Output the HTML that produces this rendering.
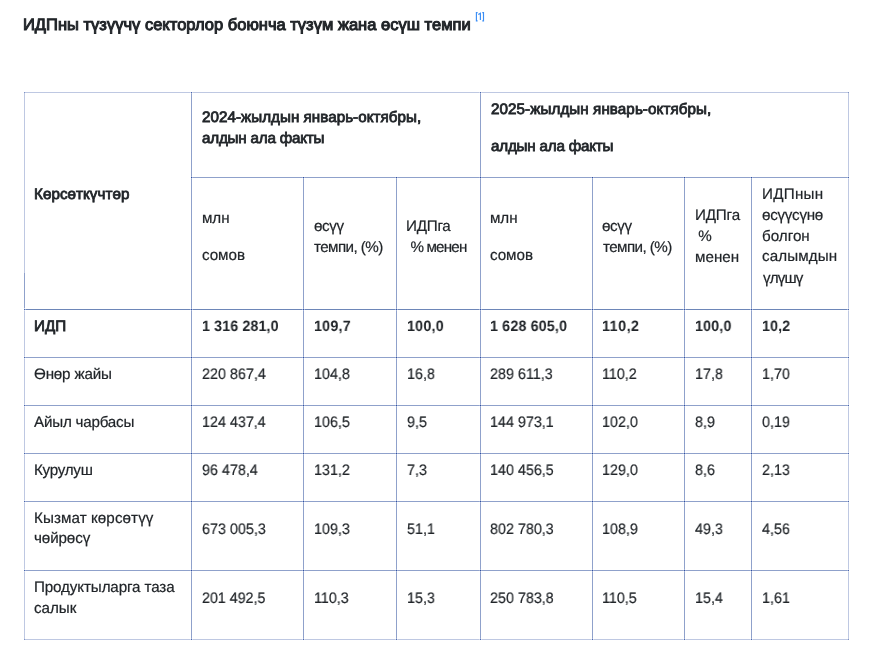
<!DOCTYPE html>
<html lang="ky"><head><meta charset="utf-8"><title>ИДП</title>
<style>
html,body{margin:0;padding:0;background:#fff;}
body{width:873px;height:658px;overflow:hidden;position:relative;font-family:"Liberation Sans",sans-serif;color:#212529;}
.ln{position:absolute;}
.t,.tb{position:absolute;will-change:transform;text-rendering:geometricPrecision;white-space:nowrap;font-size:15.2px;line-height:21px;-webkit-text-stroke:0.2px #212529;}
.tn{transform:scaleX(0.94);transform-origin:0 0;}
.tm{-webkit-text-stroke:0.8px #212529;}
.tb{font-weight:bold;font-size:15.0px;transform:scaleX(0.95);transform-origin:0 0;-webkit-text-stroke:0px #212529;}
.title{position:absolute;will-change:transform;left:22.6px;font-size:16.5px;font-weight:normal;text-rendering:geometricPrecision;-webkit-text-stroke:1.0px #212529;white-space:nowrap;letter-spacing:0.01px;line-height:20px;color:#212529}
</style></head><body>
<div class="title" id="title" style="top:15.18px">ИДПны түзүүчү секторлор боюнча түзүм жана өсүш темпи</div>
<svg style="position:absolute;left:0;top:0" width="873" height="40" viewBox="0 0 873 40"><g fill="none" stroke="#3b8ef5" stroke-width="1.15" stroke-linecap="butt"><path d="M477.6 12.6 H476.4 V20.9 H477.6"/><path d="M478.3 14.6 L480.4 13.3 V19.9"/><path d="M482.3 12.6 H483.5 V20.9 H482.3"/></g></svg>
<div class="ln" style="left:24px;top:92px;width:825px;height:1px;background:#bec8e2"></div>
<div class="ln" style="left:24px;top:639px;width:825px;height:1px;background:#bec8e2"></div>
<div class="ln" style="left:25px;top:309px;width:823px;height:1px;background:#6d86b8"></div>
<div class="ln" style="left:25px;top:357px;width:823px;height:1px;background:#8fa1cb"></div>
<div class="ln" style="left:25px;top:405px;width:823px;height:1px;background:#8fa1cb"></div>
<div class="ln" style="left:25px;top:453px;width:823px;height:1px;background:#8fa1cb"></div>
<div class="ln" style="left:25px;top:501px;width:823px;height:1px;background:#8fa1cb"></div>
<div class="ln" style="left:25px;top:570px;width:823px;height:1px;background:#8fa1cb"></div>
<div class="ln" style="left:192px;top:177px;width:656px;height:1px;background:#8fa1cb"></div>
<div class="ln" style="left:24px;top:92px;width:1px;height:548px;background:#bec8e2"></div>
<div class="ln" style="left:848px;top:92px;width:1px;height:548px;background:#bec8e2"></div>
<div class="ln" style="left:24px;top:273px;width:1px;height:36px;background:#8fa1cb"></div>
<div class="ln" style="left:191px;top:93px;width:1px;height:546px;background:#8fa1cb"></div>
<div class="ln" style="left:480px;top:93px;width:1px;height:546px;background:#8fa1cb"></div>
<div class="ln" style="left:303px;top:178px;width:1px;height:461px;background:#8fa1cb"></div>
<div class="ln" style="left:396px;top:178px;width:1px;height:461px;background:#8fa1cb"></div>
<div class="ln" style="left:592px;top:178px;width:1px;height:461px;background:#8fa1cb"></div>
<div class="ln" style="left:684px;top:178px;width:1px;height:461px;background:#8fa1cb"></div>
<div class="ln" style="left:751px;top:178px;width:1px;height:461px;background:#8fa1cb"></div>
<div class="ln" style="left:24px;top:92px;width:1px;height:1px;background:#7f93c4"></div>
<div class="ln" style="left:190px;top:92px;width:1px;height:1px;background:#d3daec"></div>
<div class="ln" style="left:192px;top:92px;width:1px;height:1px;background:#d3daec"></div>
<div class="ln" style="left:191px;top:93px;width:1px;height:1px;background:#a3b2d7"></div>
<div class="ln" style="left:191px;top:92px;width:1px;height:1px;background:#4866ac"></div>
<div class="ln" style="left:479px;top:92px;width:1px;height:1px;background:#d3daec"></div>
<div class="ln" style="left:481px;top:92px;width:1px;height:1px;background:#d3daec"></div>
<div class="ln" style="left:480px;top:93px;width:1px;height:1px;background:#a3b2d7"></div>
<div class="ln" style="left:480px;top:92px;width:1px;height:1px;background:#4866ac"></div>
<div class="ln" style="left:848px;top:92px;width:1px;height:1px;background:#7f93c4"></div>
<div class="ln" style="left:24px;top:639px;width:1px;height:1px;background:#7f93c4"></div>
<div class="ln" style="left:190px;top:639px;width:1px;height:1px;background:#d3daec"></div>
<div class="ln" style="left:192px;top:639px;width:1px;height:1px;background:#d3daec"></div>
<div class="ln" style="left:191px;top:638px;width:1px;height:1px;background:#a3b2d7"></div>
<div class="ln" style="left:191px;top:639px;width:1px;height:1px;background:#4866ac"></div>
<div class="ln" style="left:479px;top:639px;width:1px;height:1px;background:#d3daec"></div>
<div class="ln" style="left:481px;top:639px;width:1px;height:1px;background:#d3daec"></div>
<div class="ln" style="left:480px;top:638px;width:1px;height:1px;background:#a3b2d7"></div>
<div class="ln" style="left:480px;top:639px;width:1px;height:1px;background:#4866ac"></div>
<div class="ln" style="left:848px;top:639px;width:1px;height:1px;background:#7f93c4"></div>
<div class="ln" style="left:302px;top:639px;width:1px;height:1px;background:#d3daec"></div>
<div class="ln" style="left:304px;top:639px;width:1px;height:1px;background:#d3daec"></div>
<div class="ln" style="left:303px;top:638px;width:1px;height:1px;background:#a3b2d7"></div>
<div class="ln" style="left:303px;top:639px;width:1px;height:1px;background:#4866ac"></div>
<div class="ln" style="left:395px;top:639px;width:1px;height:1px;background:#d3daec"></div>
<div class="ln" style="left:397px;top:639px;width:1px;height:1px;background:#d3daec"></div>
<div class="ln" style="left:396px;top:638px;width:1px;height:1px;background:#a3b2d7"></div>
<div class="ln" style="left:396px;top:639px;width:1px;height:1px;background:#4866ac"></div>
<div class="ln" style="left:591px;top:639px;width:1px;height:1px;background:#d3daec"></div>
<div class="ln" style="left:593px;top:639px;width:1px;height:1px;background:#d3daec"></div>
<div class="ln" style="left:592px;top:638px;width:1px;height:1px;background:#a3b2d7"></div>
<div class="ln" style="left:592px;top:639px;width:1px;height:1px;background:#4866ac"></div>
<div class="ln" style="left:683px;top:639px;width:1px;height:1px;background:#d3daec"></div>
<div class="ln" style="left:685px;top:639px;width:1px;height:1px;background:#d3daec"></div>
<div class="ln" style="left:684px;top:638px;width:1px;height:1px;background:#a3b2d7"></div>
<div class="ln" style="left:684px;top:639px;width:1px;height:1px;background:#4866ac"></div>
<div class="ln" style="left:750px;top:639px;width:1px;height:1px;background:#d3daec"></div>
<div class="ln" style="left:752px;top:639px;width:1px;height:1px;background:#d3daec"></div>
<div class="ln" style="left:751px;top:638px;width:1px;height:1px;background:#a3b2d7"></div>
<div class="ln" style="left:751px;top:639px;width:1px;height:1px;background:#4866ac"></div>
<div class="ln" style="left:25px;top:309px;width:1px;height:1px;background:#a3b2d7"></div>
<div class="ln" style="left:24px;top:308px;width:1px;height:1px;background:#d3daec"></div>
<div class="ln" style="left:24px;top:310px;width:1px;height:1px;background:#d3daec"></div>
<div class="ln" style="left:24px;top:309px;width:1px;height:1px;background:#4866ac"></div>
<div class="ln" style="left:190px;top:309px;width:1px;height:1px;background:#a3b2d7"></div>
<div class="ln" style="left:192px;top:309px;width:1px;height:1px;background:#a3b2d7"></div>
<div class="ln" style="left:191px;top:308px;width:1px;height:1px;background:#a3b2d7"></div>
<div class="ln" style="left:191px;top:310px;width:1px;height:1px;background:#a3b2d7"></div>
<div class="ln" style="left:191px;top:309px;width:1px;height:1px;background:#2d4e9f"></div>
<div class="ln" style="left:479px;top:309px;width:1px;height:1px;background:#a3b2d7"></div>
<div class="ln" style="left:481px;top:309px;width:1px;height:1px;background:#a3b2d7"></div>
<div class="ln" style="left:480px;top:308px;width:1px;height:1px;background:#a3b2d7"></div>
<div class="ln" style="left:480px;top:310px;width:1px;height:1px;background:#a3b2d7"></div>
<div class="ln" style="left:480px;top:309px;width:1px;height:1px;background:#2d4e9f"></div>
<div class="ln" style="left:847px;top:309px;width:1px;height:1px;background:#a3b2d7"></div>
<div class="ln" style="left:848px;top:308px;width:1px;height:1px;background:#d3daec"></div>
<div class="ln" style="left:848px;top:310px;width:1px;height:1px;background:#d3daec"></div>
<div class="ln" style="left:848px;top:309px;width:1px;height:1px;background:#4866ac"></div>
<div class="ln" style="left:302px;top:309px;width:1px;height:1px;background:#a3b2d7"></div>
<div class="ln" style="left:304px;top:309px;width:1px;height:1px;background:#a3b2d7"></div>
<div class="ln" style="left:303px;top:308px;width:1px;height:1px;background:#a3b2d7"></div>
<div class="ln" style="left:303px;top:310px;width:1px;height:1px;background:#a3b2d7"></div>
<div class="ln" style="left:303px;top:309px;width:1px;height:1px;background:#2d4e9f"></div>
<div class="ln" style="left:395px;top:309px;width:1px;height:1px;background:#a3b2d7"></div>
<div class="ln" style="left:397px;top:309px;width:1px;height:1px;background:#a3b2d7"></div>
<div class="ln" style="left:396px;top:308px;width:1px;height:1px;background:#a3b2d7"></div>
<div class="ln" style="left:396px;top:310px;width:1px;height:1px;background:#a3b2d7"></div>
<div class="ln" style="left:396px;top:309px;width:1px;height:1px;background:#2d4e9f"></div>
<div class="ln" style="left:591px;top:309px;width:1px;height:1px;background:#a3b2d7"></div>
<div class="ln" style="left:593px;top:309px;width:1px;height:1px;background:#a3b2d7"></div>
<div class="ln" style="left:592px;top:308px;width:1px;height:1px;background:#a3b2d7"></div>
<div class="ln" style="left:592px;top:310px;width:1px;height:1px;background:#a3b2d7"></div>
<div class="ln" style="left:592px;top:309px;width:1px;height:1px;background:#2d4e9f"></div>
<div class="ln" style="left:683px;top:309px;width:1px;height:1px;background:#a3b2d7"></div>
<div class="ln" style="left:685px;top:309px;width:1px;height:1px;background:#a3b2d7"></div>
<div class="ln" style="left:684px;top:308px;width:1px;height:1px;background:#a3b2d7"></div>
<div class="ln" style="left:684px;top:310px;width:1px;height:1px;background:#a3b2d7"></div>
<div class="ln" style="left:684px;top:309px;width:1px;height:1px;background:#2d4e9f"></div>
<div class="ln" style="left:750px;top:309px;width:1px;height:1px;background:#a3b2d7"></div>
<div class="ln" style="left:752px;top:309px;width:1px;height:1px;background:#a3b2d7"></div>
<div class="ln" style="left:751px;top:308px;width:1px;height:1px;background:#a3b2d7"></div>
<div class="ln" style="left:751px;top:310px;width:1px;height:1px;background:#a3b2d7"></div>
<div class="ln" style="left:751px;top:309px;width:1px;height:1px;background:#2d4e9f"></div>
<div class="ln" style="left:25px;top:357px;width:1px;height:1px;background:#a3b2d7"></div>
<div class="ln" style="left:24px;top:356px;width:1px;height:1px;background:#d3daec"></div>
<div class="ln" style="left:24px;top:358px;width:1px;height:1px;background:#d3daec"></div>
<div class="ln" style="left:24px;top:357px;width:1px;height:1px;background:#4866ac"></div>
<div class="ln" style="left:190px;top:357px;width:1px;height:1px;background:#a3b2d7"></div>
<div class="ln" style="left:192px;top:357px;width:1px;height:1px;background:#a3b2d7"></div>
<div class="ln" style="left:191px;top:356px;width:1px;height:1px;background:#a3b2d7"></div>
<div class="ln" style="left:191px;top:358px;width:1px;height:1px;background:#a3b2d7"></div>
<div class="ln" style="left:191px;top:357px;width:1px;height:1px;background:#2d4e9f"></div>
<div class="ln" style="left:479px;top:357px;width:1px;height:1px;background:#a3b2d7"></div>
<div class="ln" style="left:481px;top:357px;width:1px;height:1px;background:#a3b2d7"></div>
<div class="ln" style="left:480px;top:356px;width:1px;height:1px;background:#a3b2d7"></div>
<div class="ln" style="left:480px;top:358px;width:1px;height:1px;background:#a3b2d7"></div>
<div class="ln" style="left:480px;top:357px;width:1px;height:1px;background:#2d4e9f"></div>
<div class="ln" style="left:847px;top:357px;width:1px;height:1px;background:#a3b2d7"></div>
<div class="ln" style="left:848px;top:356px;width:1px;height:1px;background:#d3daec"></div>
<div class="ln" style="left:848px;top:358px;width:1px;height:1px;background:#d3daec"></div>
<div class="ln" style="left:848px;top:357px;width:1px;height:1px;background:#4866ac"></div>
<div class="ln" style="left:302px;top:357px;width:1px;height:1px;background:#a3b2d7"></div>
<div class="ln" style="left:304px;top:357px;width:1px;height:1px;background:#a3b2d7"></div>
<div class="ln" style="left:303px;top:356px;width:1px;height:1px;background:#a3b2d7"></div>
<div class="ln" style="left:303px;top:358px;width:1px;height:1px;background:#a3b2d7"></div>
<div class="ln" style="left:303px;top:357px;width:1px;height:1px;background:#2d4e9f"></div>
<div class="ln" style="left:395px;top:357px;width:1px;height:1px;background:#a3b2d7"></div>
<div class="ln" style="left:397px;top:357px;width:1px;height:1px;background:#a3b2d7"></div>
<div class="ln" style="left:396px;top:356px;width:1px;height:1px;background:#a3b2d7"></div>
<div class="ln" style="left:396px;top:358px;width:1px;height:1px;background:#a3b2d7"></div>
<div class="ln" style="left:396px;top:357px;width:1px;height:1px;background:#2d4e9f"></div>
<div class="ln" style="left:591px;top:357px;width:1px;height:1px;background:#a3b2d7"></div>
<div class="ln" style="left:593px;top:357px;width:1px;height:1px;background:#a3b2d7"></div>
<div class="ln" style="left:592px;top:356px;width:1px;height:1px;background:#a3b2d7"></div>
<div class="ln" style="left:592px;top:358px;width:1px;height:1px;background:#a3b2d7"></div>
<div class="ln" style="left:592px;top:357px;width:1px;height:1px;background:#2d4e9f"></div>
<div class="ln" style="left:683px;top:357px;width:1px;height:1px;background:#a3b2d7"></div>
<div class="ln" style="left:685px;top:357px;width:1px;height:1px;background:#a3b2d7"></div>
<div class="ln" style="left:684px;top:356px;width:1px;height:1px;background:#a3b2d7"></div>
<div class="ln" style="left:684px;top:358px;width:1px;height:1px;background:#a3b2d7"></div>
<div class="ln" style="left:684px;top:357px;width:1px;height:1px;background:#2d4e9f"></div>
<div class="ln" style="left:750px;top:357px;width:1px;height:1px;background:#a3b2d7"></div>
<div class="ln" style="left:752px;top:357px;width:1px;height:1px;background:#a3b2d7"></div>
<div class="ln" style="left:751px;top:356px;width:1px;height:1px;background:#a3b2d7"></div>
<div class="ln" style="left:751px;top:358px;width:1px;height:1px;background:#a3b2d7"></div>
<div class="ln" style="left:751px;top:357px;width:1px;height:1px;background:#2d4e9f"></div>
<div class="ln" style="left:25px;top:405px;width:1px;height:1px;background:#a3b2d7"></div>
<div class="ln" style="left:24px;top:404px;width:1px;height:1px;background:#d3daec"></div>
<div class="ln" style="left:24px;top:406px;width:1px;height:1px;background:#d3daec"></div>
<div class="ln" style="left:24px;top:405px;width:1px;height:1px;background:#4866ac"></div>
<div class="ln" style="left:190px;top:405px;width:1px;height:1px;background:#a3b2d7"></div>
<div class="ln" style="left:192px;top:405px;width:1px;height:1px;background:#a3b2d7"></div>
<div class="ln" style="left:191px;top:404px;width:1px;height:1px;background:#a3b2d7"></div>
<div class="ln" style="left:191px;top:406px;width:1px;height:1px;background:#a3b2d7"></div>
<div class="ln" style="left:191px;top:405px;width:1px;height:1px;background:#2d4e9f"></div>
<div class="ln" style="left:479px;top:405px;width:1px;height:1px;background:#a3b2d7"></div>
<div class="ln" style="left:481px;top:405px;width:1px;height:1px;background:#a3b2d7"></div>
<div class="ln" style="left:480px;top:404px;width:1px;height:1px;background:#a3b2d7"></div>
<div class="ln" style="left:480px;top:406px;width:1px;height:1px;background:#a3b2d7"></div>
<div class="ln" style="left:480px;top:405px;width:1px;height:1px;background:#2d4e9f"></div>
<div class="ln" style="left:847px;top:405px;width:1px;height:1px;background:#a3b2d7"></div>
<div class="ln" style="left:848px;top:404px;width:1px;height:1px;background:#d3daec"></div>
<div class="ln" style="left:848px;top:406px;width:1px;height:1px;background:#d3daec"></div>
<div class="ln" style="left:848px;top:405px;width:1px;height:1px;background:#4866ac"></div>
<div class="ln" style="left:302px;top:405px;width:1px;height:1px;background:#a3b2d7"></div>
<div class="ln" style="left:304px;top:405px;width:1px;height:1px;background:#a3b2d7"></div>
<div class="ln" style="left:303px;top:404px;width:1px;height:1px;background:#a3b2d7"></div>
<div class="ln" style="left:303px;top:406px;width:1px;height:1px;background:#a3b2d7"></div>
<div class="ln" style="left:303px;top:405px;width:1px;height:1px;background:#2d4e9f"></div>
<div class="ln" style="left:395px;top:405px;width:1px;height:1px;background:#a3b2d7"></div>
<div class="ln" style="left:397px;top:405px;width:1px;height:1px;background:#a3b2d7"></div>
<div class="ln" style="left:396px;top:404px;width:1px;height:1px;background:#a3b2d7"></div>
<div class="ln" style="left:396px;top:406px;width:1px;height:1px;background:#a3b2d7"></div>
<div class="ln" style="left:396px;top:405px;width:1px;height:1px;background:#2d4e9f"></div>
<div class="ln" style="left:591px;top:405px;width:1px;height:1px;background:#a3b2d7"></div>
<div class="ln" style="left:593px;top:405px;width:1px;height:1px;background:#a3b2d7"></div>
<div class="ln" style="left:592px;top:404px;width:1px;height:1px;background:#a3b2d7"></div>
<div class="ln" style="left:592px;top:406px;width:1px;height:1px;background:#a3b2d7"></div>
<div class="ln" style="left:592px;top:405px;width:1px;height:1px;background:#2d4e9f"></div>
<div class="ln" style="left:683px;top:405px;width:1px;height:1px;background:#a3b2d7"></div>
<div class="ln" style="left:685px;top:405px;width:1px;height:1px;background:#a3b2d7"></div>
<div class="ln" style="left:684px;top:404px;width:1px;height:1px;background:#a3b2d7"></div>
<div class="ln" style="left:684px;top:406px;width:1px;height:1px;background:#a3b2d7"></div>
<div class="ln" style="left:684px;top:405px;width:1px;height:1px;background:#2d4e9f"></div>
<div class="ln" style="left:750px;top:405px;width:1px;height:1px;background:#a3b2d7"></div>
<div class="ln" style="left:752px;top:405px;width:1px;height:1px;background:#a3b2d7"></div>
<div class="ln" style="left:751px;top:404px;width:1px;height:1px;background:#a3b2d7"></div>
<div class="ln" style="left:751px;top:406px;width:1px;height:1px;background:#a3b2d7"></div>
<div class="ln" style="left:751px;top:405px;width:1px;height:1px;background:#2d4e9f"></div>
<div class="ln" style="left:25px;top:453px;width:1px;height:1px;background:#a3b2d7"></div>
<div class="ln" style="left:24px;top:452px;width:1px;height:1px;background:#d3daec"></div>
<div class="ln" style="left:24px;top:454px;width:1px;height:1px;background:#d3daec"></div>
<div class="ln" style="left:24px;top:453px;width:1px;height:1px;background:#4866ac"></div>
<div class="ln" style="left:190px;top:453px;width:1px;height:1px;background:#a3b2d7"></div>
<div class="ln" style="left:192px;top:453px;width:1px;height:1px;background:#a3b2d7"></div>
<div class="ln" style="left:191px;top:452px;width:1px;height:1px;background:#a3b2d7"></div>
<div class="ln" style="left:191px;top:454px;width:1px;height:1px;background:#a3b2d7"></div>
<div class="ln" style="left:191px;top:453px;width:1px;height:1px;background:#2d4e9f"></div>
<div class="ln" style="left:479px;top:453px;width:1px;height:1px;background:#a3b2d7"></div>
<div class="ln" style="left:481px;top:453px;width:1px;height:1px;background:#a3b2d7"></div>
<div class="ln" style="left:480px;top:452px;width:1px;height:1px;background:#a3b2d7"></div>
<div class="ln" style="left:480px;top:454px;width:1px;height:1px;background:#a3b2d7"></div>
<div class="ln" style="left:480px;top:453px;width:1px;height:1px;background:#2d4e9f"></div>
<div class="ln" style="left:847px;top:453px;width:1px;height:1px;background:#a3b2d7"></div>
<div class="ln" style="left:848px;top:452px;width:1px;height:1px;background:#d3daec"></div>
<div class="ln" style="left:848px;top:454px;width:1px;height:1px;background:#d3daec"></div>
<div class="ln" style="left:848px;top:453px;width:1px;height:1px;background:#4866ac"></div>
<div class="ln" style="left:302px;top:453px;width:1px;height:1px;background:#a3b2d7"></div>
<div class="ln" style="left:304px;top:453px;width:1px;height:1px;background:#a3b2d7"></div>
<div class="ln" style="left:303px;top:452px;width:1px;height:1px;background:#a3b2d7"></div>
<div class="ln" style="left:303px;top:454px;width:1px;height:1px;background:#a3b2d7"></div>
<div class="ln" style="left:303px;top:453px;width:1px;height:1px;background:#2d4e9f"></div>
<div class="ln" style="left:395px;top:453px;width:1px;height:1px;background:#a3b2d7"></div>
<div class="ln" style="left:397px;top:453px;width:1px;height:1px;background:#a3b2d7"></div>
<div class="ln" style="left:396px;top:452px;width:1px;height:1px;background:#a3b2d7"></div>
<div class="ln" style="left:396px;top:454px;width:1px;height:1px;background:#a3b2d7"></div>
<div class="ln" style="left:396px;top:453px;width:1px;height:1px;background:#2d4e9f"></div>
<div class="ln" style="left:591px;top:453px;width:1px;height:1px;background:#a3b2d7"></div>
<div class="ln" style="left:593px;top:453px;width:1px;height:1px;background:#a3b2d7"></div>
<div class="ln" style="left:592px;top:452px;width:1px;height:1px;background:#a3b2d7"></div>
<div class="ln" style="left:592px;top:454px;width:1px;height:1px;background:#a3b2d7"></div>
<div class="ln" style="left:592px;top:453px;width:1px;height:1px;background:#2d4e9f"></div>
<div class="ln" style="left:683px;top:453px;width:1px;height:1px;background:#a3b2d7"></div>
<div class="ln" style="left:685px;top:453px;width:1px;height:1px;background:#a3b2d7"></div>
<div class="ln" style="left:684px;top:452px;width:1px;height:1px;background:#a3b2d7"></div>
<div class="ln" style="left:684px;top:454px;width:1px;height:1px;background:#a3b2d7"></div>
<div class="ln" style="left:684px;top:453px;width:1px;height:1px;background:#2d4e9f"></div>
<div class="ln" style="left:750px;top:453px;width:1px;height:1px;background:#a3b2d7"></div>
<div class="ln" style="left:752px;top:453px;width:1px;height:1px;background:#a3b2d7"></div>
<div class="ln" style="left:751px;top:452px;width:1px;height:1px;background:#a3b2d7"></div>
<div class="ln" style="left:751px;top:454px;width:1px;height:1px;background:#a3b2d7"></div>
<div class="ln" style="left:751px;top:453px;width:1px;height:1px;background:#2d4e9f"></div>
<div class="ln" style="left:25px;top:501px;width:1px;height:1px;background:#a3b2d7"></div>
<div class="ln" style="left:24px;top:500px;width:1px;height:1px;background:#d3daec"></div>
<div class="ln" style="left:24px;top:502px;width:1px;height:1px;background:#d3daec"></div>
<div class="ln" style="left:24px;top:501px;width:1px;height:1px;background:#4866ac"></div>
<div class="ln" style="left:190px;top:501px;width:1px;height:1px;background:#a3b2d7"></div>
<div class="ln" style="left:192px;top:501px;width:1px;height:1px;background:#a3b2d7"></div>
<div class="ln" style="left:191px;top:500px;width:1px;height:1px;background:#a3b2d7"></div>
<div class="ln" style="left:191px;top:502px;width:1px;height:1px;background:#a3b2d7"></div>
<div class="ln" style="left:191px;top:501px;width:1px;height:1px;background:#2d4e9f"></div>
<div class="ln" style="left:479px;top:501px;width:1px;height:1px;background:#a3b2d7"></div>
<div class="ln" style="left:481px;top:501px;width:1px;height:1px;background:#a3b2d7"></div>
<div class="ln" style="left:480px;top:500px;width:1px;height:1px;background:#a3b2d7"></div>
<div class="ln" style="left:480px;top:502px;width:1px;height:1px;background:#a3b2d7"></div>
<div class="ln" style="left:480px;top:501px;width:1px;height:1px;background:#2d4e9f"></div>
<div class="ln" style="left:847px;top:501px;width:1px;height:1px;background:#a3b2d7"></div>
<div class="ln" style="left:848px;top:500px;width:1px;height:1px;background:#d3daec"></div>
<div class="ln" style="left:848px;top:502px;width:1px;height:1px;background:#d3daec"></div>
<div class="ln" style="left:848px;top:501px;width:1px;height:1px;background:#4866ac"></div>
<div class="ln" style="left:302px;top:501px;width:1px;height:1px;background:#a3b2d7"></div>
<div class="ln" style="left:304px;top:501px;width:1px;height:1px;background:#a3b2d7"></div>
<div class="ln" style="left:303px;top:500px;width:1px;height:1px;background:#a3b2d7"></div>
<div class="ln" style="left:303px;top:502px;width:1px;height:1px;background:#a3b2d7"></div>
<div class="ln" style="left:303px;top:501px;width:1px;height:1px;background:#2d4e9f"></div>
<div class="ln" style="left:395px;top:501px;width:1px;height:1px;background:#a3b2d7"></div>
<div class="ln" style="left:397px;top:501px;width:1px;height:1px;background:#a3b2d7"></div>
<div class="ln" style="left:396px;top:500px;width:1px;height:1px;background:#a3b2d7"></div>
<div class="ln" style="left:396px;top:502px;width:1px;height:1px;background:#a3b2d7"></div>
<div class="ln" style="left:396px;top:501px;width:1px;height:1px;background:#2d4e9f"></div>
<div class="ln" style="left:591px;top:501px;width:1px;height:1px;background:#a3b2d7"></div>
<div class="ln" style="left:593px;top:501px;width:1px;height:1px;background:#a3b2d7"></div>
<div class="ln" style="left:592px;top:500px;width:1px;height:1px;background:#a3b2d7"></div>
<div class="ln" style="left:592px;top:502px;width:1px;height:1px;background:#a3b2d7"></div>
<div class="ln" style="left:592px;top:501px;width:1px;height:1px;background:#2d4e9f"></div>
<div class="ln" style="left:683px;top:501px;width:1px;height:1px;background:#a3b2d7"></div>
<div class="ln" style="left:685px;top:501px;width:1px;height:1px;background:#a3b2d7"></div>
<div class="ln" style="left:684px;top:500px;width:1px;height:1px;background:#a3b2d7"></div>
<div class="ln" style="left:684px;top:502px;width:1px;height:1px;background:#a3b2d7"></div>
<div class="ln" style="left:684px;top:501px;width:1px;height:1px;background:#2d4e9f"></div>
<div class="ln" style="left:750px;top:501px;width:1px;height:1px;background:#a3b2d7"></div>
<div class="ln" style="left:752px;top:501px;width:1px;height:1px;background:#a3b2d7"></div>
<div class="ln" style="left:751px;top:500px;width:1px;height:1px;background:#a3b2d7"></div>
<div class="ln" style="left:751px;top:502px;width:1px;height:1px;background:#a3b2d7"></div>
<div class="ln" style="left:751px;top:501px;width:1px;height:1px;background:#2d4e9f"></div>
<div class="ln" style="left:25px;top:570px;width:1px;height:1px;background:#a3b2d7"></div>
<div class="ln" style="left:24px;top:569px;width:1px;height:1px;background:#d3daec"></div>
<div class="ln" style="left:24px;top:571px;width:1px;height:1px;background:#d3daec"></div>
<div class="ln" style="left:24px;top:570px;width:1px;height:1px;background:#4866ac"></div>
<div class="ln" style="left:190px;top:570px;width:1px;height:1px;background:#a3b2d7"></div>
<div class="ln" style="left:192px;top:570px;width:1px;height:1px;background:#a3b2d7"></div>
<div class="ln" style="left:191px;top:569px;width:1px;height:1px;background:#a3b2d7"></div>
<div class="ln" style="left:191px;top:571px;width:1px;height:1px;background:#a3b2d7"></div>
<div class="ln" style="left:191px;top:570px;width:1px;height:1px;background:#2d4e9f"></div>
<div class="ln" style="left:479px;top:570px;width:1px;height:1px;background:#a3b2d7"></div>
<div class="ln" style="left:481px;top:570px;width:1px;height:1px;background:#a3b2d7"></div>
<div class="ln" style="left:480px;top:569px;width:1px;height:1px;background:#a3b2d7"></div>
<div class="ln" style="left:480px;top:571px;width:1px;height:1px;background:#a3b2d7"></div>
<div class="ln" style="left:480px;top:570px;width:1px;height:1px;background:#2d4e9f"></div>
<div class="ln" style="left:847px;top:570px;width:1px;height:1px;background:#a3b2d7"></div>
<div class="ln" style="left:848px;top:569px;width:1px;height:1px;background:#d3daec"></div>
<div class="ln" style="left:848px;top:571px;width:1px;height:1px;background:#d3daec"></div>
<div class="ln" style="left:848px;top:570px;width:1px;height:1px;background:#4866ac"></div>
<div class="ln" style="left:302px;top:570px;width:1px;height:1px;background:#a3b2d7"></div>
<div class="ln" style="left:304px;top:570px;width:1px;height:1px;background:#a3b2d7"></div>
<div class="ln" style="left:303px;top:569px;width:1px;height:1px;background:#a3b2d7"></div>
<div class="ln" style="left:303px;top:571px;width:1px;height:1px;background:#a3b2d7"></div>
<div class="ln" style="left:303px;top:570px;width:1px;height:1px;background:#2d4e9f"></div>
<div class="ln" style="left:395px;top:570px;width:1px;height:1px;background:#a3b2d7"></div>
<div class="ln" style="left:397px;top:570px;width:1px;height:1px;background:#a3b2d7"></div>
<div class="ln" style="left:396px;top:569px;width:1px;height:1px;background:#a3b2d7"></div>
<div class="ln" style="left:396px;top:571px;width:1px;height:1px;background:#a3b2d7"></div>
<div class="ln" style="left:396px;top:570px;width:1px;height:1px;background:#2d4e9f"></div>
<div class="ln" style="left:591px;top:570px;width:1px;height:1px;background:#a3b2d7"></div>
<div class="ln" style="left:593px;top:570px;width:1px;height:1px;background:#a3b2d7"></div>
<div class="ln" style="left:592px;top:569px;width:1px;height:1px;background:#a3b2d7"></div>
<div class="ln" style="left:592px;top:571px;width:1px;height:1px;background:#a3b2d7"></div>
<div class="ln" style="left:592px;top:570px;width:1px;height:1px;background:#2d4e9f"></div>
<div class="ln" style="left:683px;top:570px;width:1px;height:1px;background:#a3b2d7"></div>
<div class="ln" style="left:685px;top:570px;width:1px;height:1px;background:#a3b2d7"></div>
<div class="ln" style="left:684px;top:569px;width:1px;height:1px;background:#a3b2d7"></div>
<div class="ln" style="left:684px;top:571px;width:1px;height:1px;background:#a3b2d7"></div>
<div class="ln" style="left:684px;top:570px;width:1px;height:1px;background:#2d4e9f"></div>
<div class="ln" style="left:750px;top:570px;width:1px;height:1px;background:#a3b2d7"></div>
<div class="ln" style="left:752px;top:570px;width:1px;height:1px;background:#a3b2d7"></div>
<div class="ln" style="left:751px;top:569px;width:1px;height:1px;background:#a3b2d7"></div>
<div class="ln" style="left:751px;top:571px;width:1px;height:1px;background:#a3b2d7"></div>
<div class="ln" style="left:751px;top:570px;width:1px;height:1px;background:#2d4e9f"></div>
<div class="ln" style="left:192px;top:177px;width:1px;height:1px;background:#a3b2d7"></div>
<div class="ln" style="left:191px;top:176px;width:1px;height:1px;background:#a3b2d7"></div>
<div class="ln" style="left:191px;top:178px;width:1px;height:1px;background:#a3b2d7"></div>
<div class="ln" style="left:191px;top:177px;width:1px;height:1px;background:#2d4e9f"></div>
<div class="ln" style="left:302px;top:177px;width:1px;height:1px;background:#a3b2d7"></div>
<div class="ln" style="left:304px;top:177px;width:1px;height:1px;background:#a3b2d7"></div>
<div class="ln" style="left:303px;top:178px;width:1px;height:1px;background:#a3b2d7"></div>
<div class="ln" style="left:303px;top:177px;width:1px;height:1px;background:#2d4e9f"></div>
<div class="ln" style="left:395px;top:177px;width:1px;height:1px;background:#a3b2d7"></div>
<div class="ln" style="left:397px;top:177px;width:1px;height:1px;background:#a3b2d7"></div>
<div class="ln" style="left:396px;top:178px;width:1px;height:1px;background:#a3b2d7"></div>
<div class="ln" style="left:396px;top:177px;width:1px;height:1px;background:#2d4e9f"></div>
<div class="ln" style="left:479px;top:177px;width:1px;height:1px;background:#a3b2d7"></div>
<div class="ln" style="left:481px;top:177px;width:1px;height:1px;background:#a3b2d7"></div>
<div class="ln" style="left:480px;top:176px;width:1px;height:1px;background:#a3b2d7"></div>
<div class="ln" style="left:480px;top:178px;width:1px;height:1px;background:#a3b2d7"></div>
<div class="ln" style="left:480px;top:177px;width:1px;height:1px;background:#2d4e9f"></div>
<div class="ln" style="left:591px;top:177px;width:1px;height:1px;background:#a3b2d7"></div>
<div class="ln" style="left:593px;top:177px;width:1px;height:1px;background:#a3b2d7"></div>
<div class="ln" style="left:592px;top:178px;width:1px;height:1px;background:#a3b2d7"></div>
<div class="ln" style="left:592px;top:177px;width:1px;height:1px;background:#2d4e9f"></div>
<div class="ln" style="left:683px;top:177px;width:1px;height:1px;background:#a3b2d7"></div>
<div class="ln" style="left:685px;top:177px;width:1px;height:1px;background:#a3b2d7"></div>
<div class="ln" style="left:684px;top:178px;width:1px;height:1px;background:#a3b2d7"></div>
<div class="ln" style="left:684px;top:177px;width:1px;height:1px;background:#2d4e9f"></div>
<div class="ln" style="left:750px;top:177px;width:1px;height:1px;background:#a3b2d7"></div>
<div class="ln" style="left:752px;top:177px;width:1px;height:1px;background:#a3b2d7"></div>
<div class="ln" style="left:751px;top:178px;width:1px;height:1px;background:#a3b2d7"></div>
<div class="ln" style="left:751px;top:177px;width:1px;height:1px;background:#2d4e9f"></div>
<div class="ln" style="left:847px;top:177px;width:1px;height:1px;background:#a3b2d7"></div>
<div class="ln" style="left:848px;top:176px;width:1px;height:1px;background:#d3daec"></div>
<div class="ln" style="left:848px;top:178px;width:1px;height:1px;background:#d3daec"></div>
<div class="ln" style="left:848px;top:177px;width:1px;height:1px;background:#4866ac"></div>
<div class="t tm" id="i0" style="left:34.37px;top:183.83px;letter-spacing:0.058px">Көрсөткүчтөр</div>
<div class="t tm" id="i1" style="left:202.43px;top:106.83px;letter-spacing:0.033px">2024-жылдын январь-октябры,</div>
<div class="t tm" id="i2" style="left:201.94px;top:128.17px;letter-spacing:-0.200px">алдын ала факты</div>
<div class="t tm" id="i3" style="left:491.43px;top:99.17px;letter-spacing:0.077px">2025-жылдын январь-октябры,</div>
<div class="t tm" id="i4" style="left:490.50px;top:136.17px;letter-spacing:-0.200px">алдын ала факты</div>
<div class="t" id="i5" style="left:201.80px;top:207.83px;letter-spacing:-0.070px">млн</div>
<div class="t" id="i6" style="left:201.59px;top:245.31px;letter-spacing:-0.049px">сомов</div>
<div class="t" id="i7" style="left:489.80px;top:207.83px;letter-spacing:-0.070px">млн</div>
<div class="t" id="i8" style="left:489.59px;top:245.31px;letter-spacing:-0.049px">сомов</div>
<div class="t" id="i9" style="left:313.51px;top:215.67px;letter-spacing:-0.368px">өсүү</div>
<div class="t" id="i10" style="left:314.21px;top:237.33px;letter-spacing:-0.576px">темпи, (%)</div>
<div class="t" id="i11" style="left:602.08px;top:215.67px;letter-spacing:-0.369px">өсүү</div>
<div class="t" id="i12" style="left:603.48px;top:237.33px;letter-spacing:-0.576px">темпи, (%)</div>
<div class="t" id="i13" style="left:406.22px;top:216.33px;letter-spacing:-0.245px">ИДПга</div>
<div class="t" id="i14" style="left:407.27px;top:236.51px;letter-spacing:-0.820px">&nbsp;% менен</div>
<div class="t" id="i15" style="left:694.93px;top:204.83px;letter-spacing:-0.172px">ИДПга</div>
<div class="t" id="i16" style="left:694.44px;top:225.83px">&nbsp;%</div>
<div class="t" id="i17" style="left:694.93px;top:247.17px">менен</div>
<div class="t" id="i18" style="left:761.73px;top:183.65px;letter-spacing:0.280px">ИДПнын</div>
<div class="t" id="i19" style="left:761.73px;top:204.83px;letter-spacing:-0.280px">өсүүсүнө</div>
<div class="t" id="i20" style="left:761.80px;top:226.17px">болгон</div>
<div class="t" id="i21" style="left:761.73px;top:246.31px;letter-spacing:0.100px">салымдын</div>
<div class="t" id="i22" style="left:763.43px;top:267.51px;letter-spacing:-0.876px">үлүшү</div>
<div class="t tm" id="i23" style="left:34.44px;top:315.63px">ИДП</div>
<div class="tb" id="i24" style="left:201.94px;top:315.74px;letter-spacing:0.126px">1 316 281,0</div>
<div class="tb" id="i25" style="left:314.00px;top:315.74px;letter-spacing:0.236px">109,7</div>
<div class="tb" id="i26" style="left:406.50px;top:315.74px;letter-spacing:0.236px">100,0</div>
<div class="tb" id="i27" style="left:490.08px;top:315.74px;letter-spacing:0.182px">1 628 605,0</div>
<div class="tb" id="i28" style="left:601.94px;top:315.74px;letter-spacing:0.560px">110,2</div>
<div class="tb" id="i29" style="left:695.00px;top:315.74px;letter-spacing:0.175px">100,0</div>
<div class="tb" id="i30" style="left:762.21px;top:315.74px;letter-spacing:0.139px">10,2</div>
<div class="t" id="i31" style="left:34.25px;top:364.05px;letter-spacing:-0.176px">Өнөр жайы</div>
<div class="t tn" id="i32" style="left:202.24px;top:364.05px;letter-spacing:0.053px">220 867,4</div>
<div class="t tn" id="i33" style="left:314.00px;top:364.05px;letter-spacing:0.029px">104,8</div>
<div class="t tn" id="i34" style="left:406.50px;top:364.05px;letter-spacing:0.029px">16,8</div>
<div class="t tn" id="i35" style="left:490.08px;top:364.05px;letter-spacing:0.029px">289 611,3</div>
<div class="t tn" id="i36" style="left:601.94px;top:364.05px;letter-spacing:0.029px">110,2</div>
<div class="t tn" id="i37" style="left:695.00px;top:364.05px;letter-spacing:0.029px">17,8</div>
<div class="t tn" id="i38" style="left:762.21px;top:364.05px;letter-spacing:0.029px">1,70</div>
<div class="t" id="i39" style="left:33.86px;top:411.61px;letter-spacing:-0.211px">Айыл чарбасы</div>
<div class="t tn" id="i40" style="left:201.89px;top:411.61px;letter-spacing:0.029px">124 437,4</div>
<div class="t tn" id="i41" style="left:314.00px;top:411.61px;letter-spacing:0.029px">106,5</div>
<div class="t tn" id="i42" style="left:406.50px;top:411.61px;letter-spacing:0.029px">9,5</div>
<div class="t tn" id="i43" style="left:490.08px;top:411.61px;letter-spacing:0.029px">144 973,1</div>
<div class="t tn" id="i44" style="left:601.94px;top:411.61px;letter-spacing:0.029px">102,0</div>
<div class="t tn" id="i45" style="left:695.00px;top:411.61px;letter-spacing:0.029px">8,9</div>
<div class="t tn" id="i46" style="left:762.21px;top:411.61px;letter-spacing:0.029px">0,19</div>
<div class="t" id="i47" style="left:34.30px;top:459.77px;letter-spacing:-0.268px">Курулуш</div>
<div class="t tn" id="i48" style="left:201.89px;top:459.77px;letter-spacing:0.029px">96 478,4</div>
<div class="t tn" id="i49" style="left:314.00px;top:459.77px;letter-spacing:0.029px">131,2</div>
<div class="t tn" id="i50" style="left:406.50px;top:459.77px;letter-spacing:0.029px">7,3</div>
<div class="t tn" id="i51" style="left:490.08px;top:459.77px;letter-spacing:0.029px">140 456,5</div>
<div class="t tn" id="i52" style="left:601.94px;top:459.77px;letter-spacing:0.029px">129,0</div>
<div class="t tn" id="i53" style="left:695.00px;top:459.77px;letter-spacing:0.029px">8,6</div>
<div class="t tn" id="i54" style="left:762.21px;top:459.77px;letter-spacing:0.029px">2,13</div>
<div class="t" id="i55" style="left:34.44px;top:507.83px;letter-spacing:0.090px">Кызмат көрсөтүү</div>
<div class="t" id="i56" style="left:34.44px;top:528.33px;letter-spacing:-0.117px">чөйрөсү</div>
<div class="t" id="i57" style="left:34.44px;top:577.17px;letter-spacing:-0.123px">Продуктыларга таза</div>
<div class="t" id="i58" style="left:34.44px;top:597.83px;letter-spacing:-0.035px">салык</div>
<div class="t tn" id="i59" style="left:201.80px;top:519.17px;letter-spacing:0.052px">673 005,3</div>
<div class="t tn" id="i60" style="left:314.00px;top:519.17px;letter-spacing:0.029px">109,3</div>
<div class="t tn" id="i61" style="left:406.50px;top:519.17px;letter-spacing:0.029px">51,1</div>
<div class="t tn" id="i62" style="left:490.08px;top:519.17px;letter-spacing:0.029px">802 780,3</div>
<div class="t tn" id="i63" style="left:601.94px;top:519.17px;letter-spacing:0.029px">108,9</div>
<div class="t tn" id="i64" style="left:695.00px;top:519.17px;letter-spacing:0.029px">49,3</div>
<div class="t tn" id="i65" style="left:762.21px;top:519.17px;letter-spacing:0.029px">4,56</div>
<div class="t tn" id="i66" style="left:201.59px;top:587.83px;letter-spacing:-0.019px">201 492,5</div>
<div class="t tn" id="i67" style="left:314.00px;top:587.83px;letter-spacing:0.029px">110,3</div>
<div class="t tn" id="i68" style="left:406.50px;top:587.83px;letter-spacing:0.029px">15,3</div>
<div class="t tn" id="i69" style="left:490.08px;top:587.83px;letter-spacing:0.029px">250 783,8</div>
<div class="t tn" id="i70" style="left:601.94px;top:587.83px;letter-spacing:0.029px">110,5</div>
<div class="t tn" id="i71" style="left:695.00px;top:587.83px;letter-spacing:0.029px">15,4</div>
<div class="t tn" id="i72" style="left:762.21px;top:587.83px;letter-spacing:0.029px">1,61</div>
</body></html>
